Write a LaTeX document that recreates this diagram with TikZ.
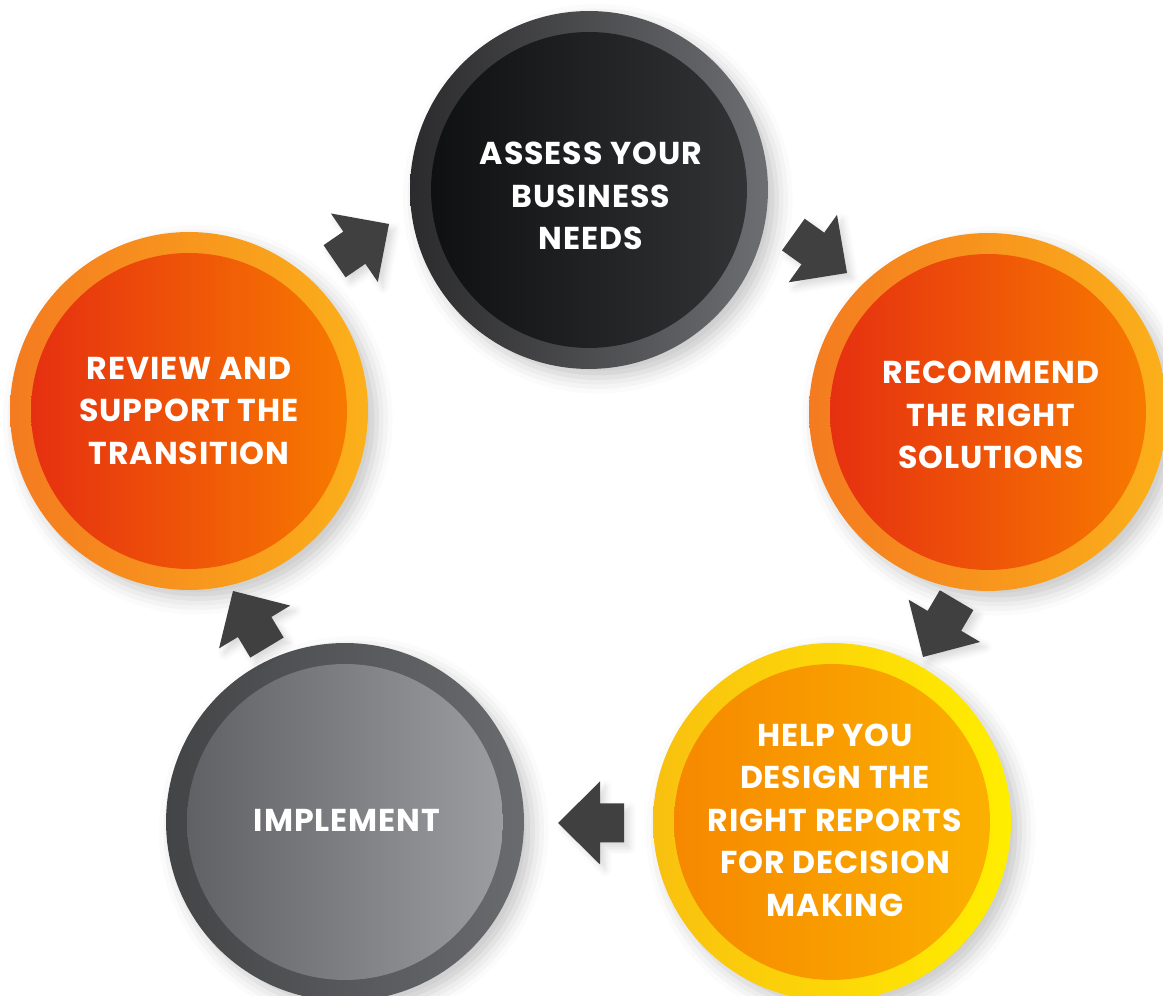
\documentclass[tikz,border=0pt]{standalone}
\usepackage{fontspec}
\setmainfont{Poppins}
\newfontfamily\stepfont{Poppins}[LetterSpace=3.0]
\usetikzlibrary{shadows.blur}

\definecolor{arrowgray}{HTML}{404041}
\definecolor{darkringL}{HTML}{2B2B2D}
\definecolor{darkringR}{HTML}{6D6E71}
\definecolor{darkcoreL}{HTML}{0F1011}
\definecolor{darkcoreR}{HTML}{323335}
\definecolor{grayringL}{HTML}{434446}
\definecolor{grayringR}{HTML}{6A6B6E}
\definecolor{graycoreL}{HTML}{606164}
\definecolor{graycoreR}{HTML}{9C9DA0}
\definecolor{redringL}{HTML}{F47B20}
\definecolor{redringR}{HTML}{FBB01A}
\definecolor{redcoreL}{HTML}{E63010}
\definecolor{redcoreR}{HTML}{F77A00}
\definecolor{yelringL}{HTML}{F9C00F}
\definecolor{yelringR}{HTML}{FFEE00}
\definecolor{yelcoreL}{HTML}{F68800}
\definecolor{yelcoreR}{HTML}{FBB000}

\tikzset{
  ring/.style={circle, inner sep=0pt, minimum size=7.16cm,
    blur shadow={shadow xshift=5pt, shadow yshift=-5pt,
      shadow blur radius=9pt, shadow opacity=22}},
  core/.style={circle, inner sep=0pt, minimum size=6.32cm},
  steptext/.style={text=white, align=center,
    font=\stepfont\bfseries\fontsize{18}{24.2}\selectfont},
  arrowblock/.style={fill=arrowgray,
    blur shadow={shadow xshift=3pt, shadow yshift=-3pt,
      shadow blur radius=4pt, shadow opacity=15}}
}

\newcommand{\flowarrow}[2]{%
  \path[arrowblock, shift={#1}, rotate=#2] (0,0) -- (-42,41.5) -- (-42,19.5)
    -- (-66,19.5) -- (-66,-19.5) -- (-42,-19.5) -- (-42,-41.5) -- cycle;}

\begin{document}
\begin{tikzpicture}[x=0.02cm, y=0.02cm]
\useasboundingbox (0,0) rectangle (1163,996);

% outer rings
\node[ring, left color=darkringL, right color=darkringR] (assessring) at (589,806) {};
\node[ring, left color=redringL, right color=redringR] (recommendring) at (988,584) {};
\node[ring, left color=yelringL, right color=yelringR] (designring) at (832,174) {};
\node[ring, left color=grayringL, right color=grayringR] (implementring) at (345,174) {};
\node[ring, left color=redringL, right color=redringR] (reviewring) at (189,585) {};

% inner discs
\node[core, left color=darkcoreL, right color=darkcoreR] (assess) at (assessring) {};
\node[core, left color=redcoreL, right color=redcoreR] (recommend) at (recommendring) {};
\node[core, left color=yelcoreL, right color=yelcoreR] (design) at (designring) {};
\node[core, left color=graycoreL, right color=graycoreR] (implement) at (implementring) {};
\node[core, left color=redcoreL, right color=redcoreR] (review) at (reviewring) {};

% step texts
\node[steptext] (assesstext) at (591,800) {ASSESS YOUR\\BUSINESS\\NEEDS};
\node[steptext] (recommendtext) at (991,581) {RECOMMEND\\THE RIGHT\\SOLUTIONS};
\node[steptext] (designtext) at (835,176) {HELP YOU\\DESIGN THE\\RIGHT REPORTS\\FOR DECISION\\MAKING};
\node[steptext] (implementtext) at (347,176) {IMPLEMENT};
\node[steptext] (reviewtext) at (189,585) {REVIEW AND\\SUPPORT THE\\TRANSITION};

% block arrows
\flowarrow{(389,772)}{34.4}
\flowarrow{(847,723)}{-35.6}
\flowarrow{(923,339)}{239.4}
\flowarrow{(558,173)}{180}
\flowarrow{(233,405)}{121}
\end{tikzpicture}
\end{document}
